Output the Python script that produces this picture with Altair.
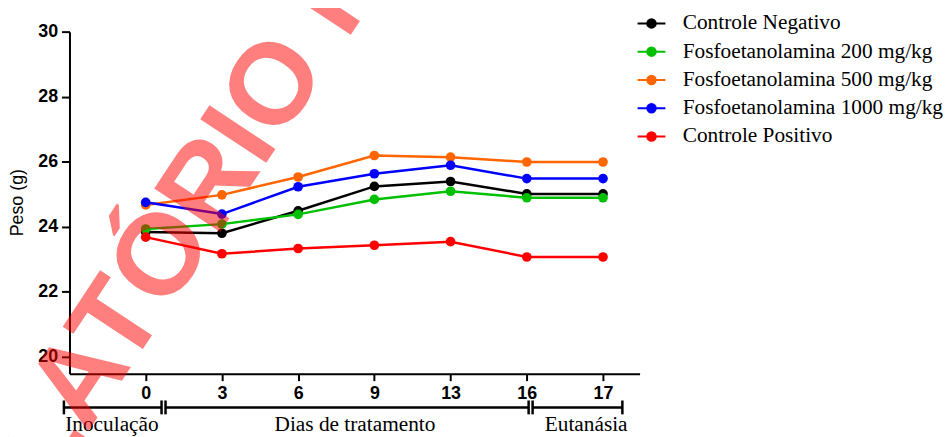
import altair as alt
import pandas as pd

# ---- data ----
days = [0, 3, 6, 9, 13, 16, 17]
series = [
    "Controle Negativo",
    "Fosfoetanolamina 200 mg/kg",
    "Fosfoetanolamina 500 mg/kg",
    "Fosfoetanolamina 1000 mg/kg",
    "Controle Positivo",
]
colors = ["#000000", "#00C000", "#FF6600", "#0000FF", "#FF0000"]
controle_negativo = [23.84, 23.80, 24.49, 25.24, 25.39, 25.01, 25.01]
fosfo_200 = [23.93, 24.08, 24.38, 24.84, 25.09, 24.89, 24.89]
fosfo_500 = [24.67, 24.98, 25.53, 26.19, 26.14, 25.99, 25.99]
fosfo_1000 = [24.75, 24.39, 25.23, 25.63, 25.89, 25.48, 25.48]
controle_positivo = [23.68, 23.17, 23.33, 23.43, 23.54, 23.07, 23.07]
values = [controle_negativo, fosfo_200, fosfo_500, fosfo_1000, controle_positivo]

phases = ["Inoculação", "Dias de tratamento", "Eutanásia"]
y_ticks = [20, 22, 24, 26, 28, 30]

# ---- tables built from the arrays ----
rows = []
for s, vals in zip(series, values):
    for i, (d, v) in enumerate(zip(days, vals)):
        rows.append({"series": s, "idx": i, "day": d, "peso": v})
df = pd.DataFrame(rows)

# timeline bracket (positions in the x scale's index units)
seg_df = pd.DataFrame({"idx": [-1.073, 0.260, 5.076], "idx2": [0.208, 5.024, 6.254]})
tick_df = pd.DataFrame({"idx": [-1.073, 0.208, 0.260, 5.024, 5.076, 6.254]})
phase_df = pd.DataFrame({"idx": [-0.443, 2.746, 5.779], "label": phases})

label_expr = "[" + ",".join("'%d'" % d for d in days) + "][datum.value]"

x_scale = alt.Scale(domain=[-1, 6.48], nice=False, zero=False)
y_scale = alt.Scale(domain=[19.48, 30], nice=False, zero=False)

x_axis = alt.Axis(
    title=None, values=list(range(len(days))), labelExpr=label_expr,
    grid=False, tickSize=7, labelPadding=4,
)
y_axis = alt.Axis(
    title="Peso (g)", values=y_ticks, grid=False, tickSize=8, labelPadding=4,
    titleAngle=270, titleAlign="center", titleBaseline="middle",
    titleX=-52, titleY=172, titleFont="Liberation Sans", titleFontSize=18,
    titleFontWeight="normal", titleColor="black",
)
x_enc = alt.X("idx:Q", scale=x_scale, axis=x_axis)

sym_path = (
    "M-1.08,0L1.08,0 "
    "M0.33,0A0.33,0.33 0 1,1 -0.33,0A0.33,0.33 0 1,1 0.33,0 "
    "M0.2,0A0.2,0.2 0 1,1 -0.2,0A0.2,0.2 0 1,1 0.2,0 "
    "M0.08,0A0.08,0.08 0 1,1 -0.08,0A0.08,0.08 0 1,1 0.08,0"
)
legend = alt.Legend(
    title=None, orient="none", legendX=573, legendY=-22.3,
    symbolType=sym_path, symbolSize=676, symbolStrokeWidth=2,
    labelFont="Liberation Serif", labelFontSize=21.5, labelColor="black",
    labelOffset=17.5, labelLimit=400, rowPadding=3.5, padding=0,
)
color = alt.Color("series:N", scale=alt.Scale(domain=series, range=colors), legend=legend)

layers = []
for s in series:
    base = alt.Chart(df).transform_filter(alt.datum.series == s)
    enc = dict(
        x=x_enc,
        y=alt.Y("peso:Q", scale=y_scale, axis=y_axis),
        color=color,
    )
    layers.append(base.mark_line(strokeWidth=2.5).encode(**enc))
    layers.append(base.mark_point(filled=True, size=95, opacity=1).encode(**enc))

bracket = alt.Chart(seg_df).mark_rule(color="black", strokeWidth=2.5).encode(
    x=x_enc, x2="idx2:Q", y=alt.value(379)
)
bracket_ticks = alt.Chart(tick_df).mark_rule(color="black", strokeWidth=2.5).encode(
    x=x_enc, y=alt.value(372), y2=alt.value(386)
)
phase_text = alt.Chart(phase_df).mark_text(
    font="Liberation Serif", fontSize=21.5, color="black", align="center", baseline="alphabetic"
).encode(x=x_enc, y=alt.value(403), text="label:N")

wm_style = dict(
    font="Liberation Sans", fontWeight="bold", fontSize=116, color="#FF0000",
    opacity=0.5, angle=303.5, baseline="alphabetic",
)
wm_a = alt.Chart(pd.DataFrame({"t": [0]})).mark_text(
    text="ATÓRIO FINAL", align="left", **wm_style
).encode(x=alt.value(17.5), y=alt.value(405.5))
wm_b = alt.Chart(pd.DataFrame({"t": [0]})).mark_text(
    text="REL", align="right", **wm_style
).encode(x=alt.value(17.5), y=alt.value(405.5))

chart = alt.layer(*layers, bracket, bracket_ticks, phase_text, wm_a, wm_b).properties(
    width=575, height=345,
    autosize=alt.AutoSizeParams(type="none"),
    padding={"left": 62, "top": 22, "right": 307, "bottom": 62},
).configure_view(stroke=None).configure_axis(
    domainColor="black", domainWidth=2, tickColor="black", tickWidth=2,
    labelFont="Liberation Sans", labelFontWeight="bold", labelFontSize=18,
    labelColor="black",
)

chart.save("out.html", embed_options={"renderer": "svg", "actions": False})
